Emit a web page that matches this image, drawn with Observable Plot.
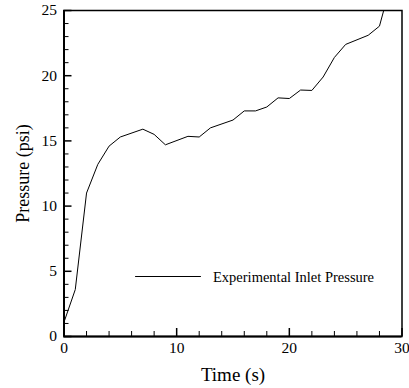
<!DOCTYPE html>
<html><head><meta charset="utf-8">
<script src="https://cdn.jsdelivr.net/npm/d3@7"></script>
<script src="https://cdn.jsdelivr.net/npm/@observablehq/plot@0.6"></script>
<style>body{margin:0;background:#fff}</style>
</head><body><div id="chart"></div>
<script>
const time = [0, 1, 2, 3, 4, 5, 7, 8, 9, 11, 12, 13, 15, 16, 17, 18, 19, 20, 21, 22, 23, 24, 25, 27, 28, 29];
const pressure = [1.1, 3.6, 11.0, 13.2, 14.6, 15.3, 15.9, 15.5, 14.7, 15.35, 15.3, 16.0, 16.6, 17.3, 17.3, 17.6, 18.3, 18.25, 18.9, 18.87, 19.9, 21.4, 22.4, 23.1, 23.8, 27.0];
const xMajorTicks = [0, 10, 20, 30];
const xMinorTicks = [2, 4, 6, 8, 12, 14, 16, 18, 22, 24, 26, 28];
const yMajorTicks = [0, 5, 10, 15, 20, 25];
const yMinorTicks = [1, 2, 3, 4, 6, 7, 8, 9, 11, 12, 13, 14, 16, 17, 18, 19, 21, 22, 23, 24];
const xLabel = "Time (s)";
const yLabel = "Pressure (psi)";
const seriesName = "Experimental Inlet Pressure";

const W = 409, H = 388, mL = 63.5, mR = 7.5, mT = 10, mB = 52;
const plotW = W - mL - mR, plotH = H - mT - mB;
const data = time.map((t, i) => ({time: t, pressure: pressure[i]}));
const font = "'Liberation Serif', 'Times New Roman', serif";
const lineShape = {draw(ctx, l) { ctx.moveTo(0, 0); ctx.lineTo(0, -l); }};

const chart = Plot.plot({
  width: W,
  height: H,
  marginLeft: mL,
  marginRight: mR,
  marginTop: mT,
  marginBottom: mB,
  style: {fontFamily: font, background: "#fff", color: "#000"},
  x: {domain: [0, 30]},
  y: {domain: [0, 25]},
  marks: [
    Plot.line(data, {x: "time", y: "pressure", stroke: "#000", strokeWidth: 1, clip: true}),
    Plot.frame({stroke: "#000", strokeWidth: 1.5}),
    Plot.tickX(xMinorTicks, {x: d => d, insetTop: plotH - 5, stroke: "#000", strokeWidth: 1}),
    Plot.tickX(xMajorTicks, {x: d => d, insetTop: plotH - 8, stroke: "#000", strokeWidth: 1.5}),
    Plot.tickY(yMinorTicks, {y: d => d, insetRight: plotW - 5, stroke: "#000", strokeWidth: 1}),
    Plot.tickY(yMajorTicks, {y: d => d, insetRight: plotW - 8, stroke: "#000", strokeWidth: 1.5}),
    Plot.axisX(xMajorTicks, {tickSize: 0, tickPadding: 5, fontSize: 15.5, label: null}),
    Plot.axisY(yMajorTicks, {tickSize: 0, tickPadding: 7, fontSize: 15.5, label: null}),
    Plot.ruleX([0], {stroke: "#000", strokeWidth: 2}),
    Plot.ruleY([0], {stroke: "#000", strokeWidth: 2}),
    Plot.text([xLabel], {frameAnchor: "bottom", dy: 38, fontSize: 19, textAnchor: "middle", lineAnchor: "middle", fill: "#000"}),
    Plot.text([yLabel], {frameAnchor: "left", dx: -41, rotate: -90, fontSize: 18, textAnchor: "middle", lineAnchor: "middle", fill: "#000"}),
    Plot.vector([seriesName], {frameAnchor: "top-left", dx: 71.5, dy: 266, rotate: 90, length: 65, anchor: "start", shape: lineShape, stroke: "#000", strokeWidth: 1}),
    Plot.text([seriesName], {frameAnchor: "top-left", dx: 149, dy: 267, textAnchor: "start", lineAnchor: "middle", fontSize: 14.5, fill: "#000"})
  ]
});
document.getElementById("chart").appendChild(chart);
</script>
</body></html>
